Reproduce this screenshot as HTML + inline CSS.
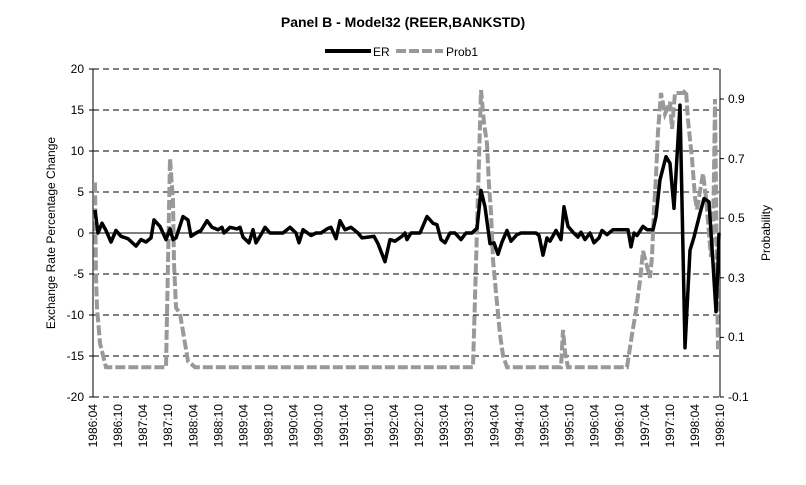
<!DOCTYPE html>
<html><head><meta charset="utf-8"><style>
body{margin:0;background:#fff;}
svg{display:block;font-family:"Liberation Sans",Arial,sans-serif;}
</style></head><body>
<svg id="s" width="806" height="485" viewBox="0 0 806 485" xmlns="http://www.w3.org/2000/svg">
<rect width="806" height="485" fill="#fff"/>
<text x="403" y="27" text-anchor="middle" font-size="14" font-weight="bold">Panel B - Model32 (REER,BANKSTD)</text>
<line x1="325" y1="51" x2="371" y2="51" stroke="#000" stroke-width="4"/>
<text x="373" y="56" font-size="12">ER</text>
<line x1="396" y1="51" x2="443" y2="51" stroke="#999" stroke-width="4" stroke-dasharray="10,3"/>
<text x="446" y="56" font-size="12">Prob1</text>
<g stroke="#000" stroke-width="1" stroke-dasharray="6,4">
<line x1="93" y1="69" x2="720" y2="69"/><line x1="93" y1="110" x2="720" y2="110"/>
<line x1="93" y1="151" x2="720" y2="151"/><line x1="93" y1="192" x2="720" y2="192"/>
<line x1="93" y1="274" x2="720" y2="274"/><line x1="93" y1="315" x2="720" y2="315"/>
<line x1="93" y1="356" x2="720" y2="356"/><line x1="93" y1="397" x2="720" y2="397"/>
</g>
<line x1="93" y1="233" x2="720" y2="233" stroke="#000"/>
<line x1="93" y1="69" x2="93" y2="397" stroke="#000"/>
<line x1="720" y1="69" x2="720" y2="397" stroke="#000"/>
<g stroke="#000"><line x1="89" y1="69" x2="93" y2="69"/><line x1="89" y1="110" x2="93" y2="110"/><line x1="89" y1="151" x2="93" y2="151"/><line x1="89" y1="192" x2="93" y2="192"/><line x1="89" y1="233" x2="93" y2="233"/><line x1="89" y1="274" x2="93" y2="274"/><line x1="89" y1="315" x2="93" y2="315"/><line x1="89" y1="356" x2="93" y2="356"/><line x1="89" y1="397" x2="93" y2="397"/>
<line x1="720" y1="99" x2="724" y2="99"/><line x1="720" y1="158.6" x2="724" y2="158.6"/><line x1="720" y1="218.2" x2="724" y2="218.2"/><line x1="720" y1="277.8" x2="724" y2="277.8"/><line x1="720" y1="337.4" x2="724" y2="337.4"/><line x1="720" y1="397" x2="724" y2="397"/></g>
<g font-size="12" text-anchor="end">
<text x="84" y="73">20</text><text x="84" y="114">15</text><text x="84" y="155">10</text><text x="84" y="196">5</text><text x="84" y="237">0</text><text x="84" y="278">-5</text><text x="84" y="319">-10</text><text x="84" y="360">-15</text><text x="84" y="401">-20</text>
</g>
<g font-size="12">
<text x="728" y="103">0.9</text><text x="728" y="163">0.7</text><text x="728" y="222">0.5</text><text x="728" y="282">0.3</text><text x="728" y="341">0.1</text><text x="728" y="401">-0.1</text>
</g>
<text transform="translate(55,233) rotate(-90)" text-anchor="middle" font-size="12">Exchange Rate Percentage Change</text>
<text transform="translate(770,233) rotate(-90)" text-anchor="middle" font-size="12">Probability</text>
<g id="xl" font-size="12" text-anchor="end"></g>
<polyline id="pr" fill="none" stroke="#999" stroke-width="4" stroke-dasharray="10,3"/>
<polyline id="er" fill="none" stroke="#000" stroke-width="3.5" stroke-linejoin="round"/>
</svg>
<script>
var labs=["1986:04","1986:10","1987:04","1987:10","1988:04","1988:10","1989:04","1989:10","1990:04","1990:10","1991:04","1991:10","1992:04","1992:10","1993:04","1993:10","1994:04","1994:10","1995:04","1995:10","1996:04","1996:10","1997:04","1997:10","1998:04","1998:10"];
var g=document.getElementById('xl'),h='';
for(var i=0;i<labs.length;i+=1){var x=93+i*25.08+4;h+='<text transform="translate('+x.toFixed(1)+',404) rotate(-90)">'+labs[i]+'</text>';}
g.innerHTML=h;
var er=[95,2.8,98,0,102,1.2,106,0.3,111,-1.1,116,0.3,121,-0.4,128,-0.7,136,-1.6,141,-0.8,146,-1.1,151,-0.6,154,1.6,160,0.8,166,-0.8,170,0.5,173,-0.8,176,-0.6,183,2,188,1.6,191,-0.4,196,0,201,0.3,207,1.5,212,0.7,218,0.4,222,0.7,224,0,230,0.7,237,0.5,240,0.7,243,-0.5,249,-1.2,253,0.4,256,-1.2,262,0,265,0.7,270,0,283,0,290,0.7,296,0,299,-1.2,303,0.4,311,-0.3,316,0,321,0,327,0.5,331,0.7,336,-0.7,340,1.5,345,0.4,351,0.7,358,0,362,-0.6,368,-0.5,374,-0.4,378,-1.3,385,-3.5,390,-0.8,395,-1,402,-0.4,405,0,407,-0.8,411,0,420,0,427,2,433,1.2,437,1,441,-0.8,445,-1.2,450,0,455,0,461,-0.8,466,0,472,0,477,0.6,481,5.2,485,3.2,490,-1.3,494,-1.2,498,-2.6,502,-1.1,507,0.3,511,-1,517,-0.2,521,0,532,0,536,0,539,-0.3,543,-2.7,547,-0.6,550,-1,556,0.3,561,-0.8,564,3.2,568,0.8,573,0.1,578,-0.5,581,0.1,585,-0.8,590,0,594,-1.2,599,-0.6,602,0.3,607,-0.2,613,0.4,628,0.4,631,-1.7,634,0,637,-0.3,643,0.8,647,0.4,653,0.4,656,2,660,6.5,666,9.3,670,8.5,674,3,680,15.6,685,-14,690,-2.1,694,-0.5,700,2.4,704,4.2,709,3.8,713,-3.7,716,-9.6,718,-4,719,0];
var p=[95,0.62,96,0.3,97,0.2,100,0.08,106,0.0,166,0.0,170,0.7,173,0.56,174,0.35,176,0.2,180,0.18,185,0.08,188,0.02,195,0.0,473,0.0,481,0.93,484,0.82,487,0.75,489,0.61,491,0.52,493,0.36,496,0.25,500,0.11,503,0.04,507,0.0,561,0.0,563,0.125,565,0.05,568,0.0,627,0.0,632,0.11,636,0.19,640,0.29,643,0.39,650,0.3,652,0.37,654,0.53,656,0.64,658,0.79,661,0.92,665,0.85,670,0.89,672,0.8,675,0.92,683,0.92,686,0.93,688,0.83,692,0.7,695,0.57,697,0.53,700,0.59,703,0.65,706,0.57,709,0.45,711,0.37,713,0.45,714,0.65,715,0.9,716,0.6,717,0.28,718,0.06];
var s='';for(var i=0;i<er.length;i+=2)s+=er[i]+','+(233-er[i+1]*8.2).toFixed(1)+' ';
document.getElementById('er').setAttribute('points',s);
s='';for(var i=0;i<p.length;i+=2)s+=p[i]+','+(397-(p[i+1]+0.1)*298).toFixed(1)+' ';
document.getElementById('pr').setAttribute('points',s);
</script>
</body></html>
